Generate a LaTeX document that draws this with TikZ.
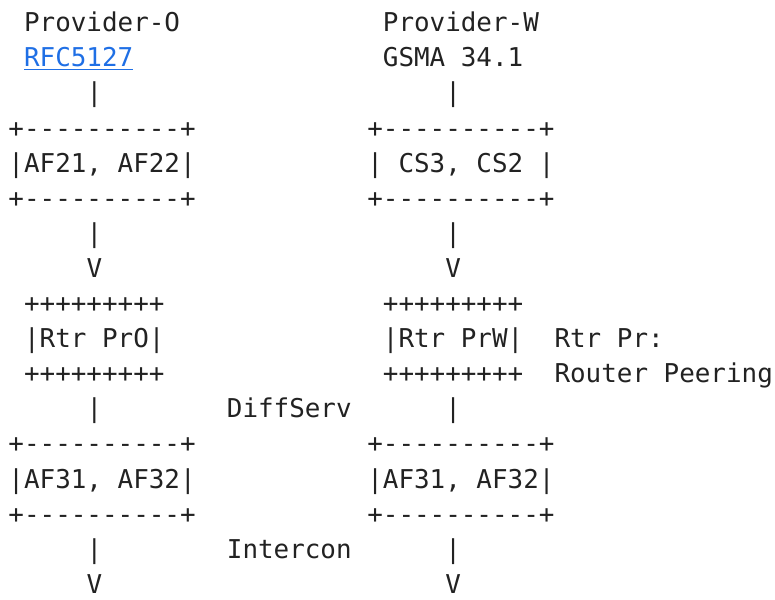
\documentclass[tikz,border=0pt]{standalone}
\usepackage{fontspec}
\newfontfamily\monoA[Ligatures=TeXOff]{DejaVu Sans Mono}
\definecolor{inkc}{HTML}{222222}
\definecolor{linkc}{HTML}{1F6FE5}
\tikzset{
  asc/.style={anchor=base west, inner sep=0pt, outer sep=0pt, text=inkc,
    font=\monoA\fontsize{25.91pt}{30pt}\selectfont},
  lnk/.style={asc, text=linkc},
}
% column / row -> position (cell pitch 15.6pt, line pitch 35.1pt)
\newcommand\cell[4]{\node[asc] (#3) at ({(8.5+#1*15.6)*1pt},{(567.2-#2*35.1)*1pt}) {#4};}
\begin{document}
\begin{tikzpicture}
\useasboundingbox (0,0) rectangle (775pt,599pt);
% row 0-1: headings
\cell{1}{0}{provO}{Provider-O}
\cell{24}{0}{provW}{Provider-W}
\node[lnk] (rfc) at ({(8.5+1*15.6)*1pt},{(567.2-1*35.1)*1pt}) {RFC5127};
\draw[linkc, line width=1pt] ([yshift=-2.6pt]rfc.base west) -- ([yshift=-2.6pt]rfc.base east);
\cell{24}{1}{gsma}{GSMA 34.1}
% row 2
\cell{5}{2}{barA1}{|}
\cell{28}{2}{barB1}{|}
% rows 3-5: first boxes
\cell{0}{3}{boxA1t}{+----------+}
\cell{23}{3}{boxB1t}{+----------+}
\cell{0}{4}{boxA1}{|AF21, AF22|}
\cell{23}{4}{boxB1}{| CS3, CS2 |}
\cell{0}{5}{boxA1b}{+----------+}
\cell{23}{5}{boxB1b}{+----------+}
% rows 6-7
\cell{5}{6}{barA2}{|}
\cell{28}{6}{barB2}{|}
\cell{5}{7}{arrA1}{V}
\cell{28}{7}{arrB1}{V}
% rows 8-10: routers
\cell{1}{8}{rtrAt}{+++++++++}
\cell{24}{8}{rtrBt}{+++++++++}
\cell{1}{9}{rtrA}{|Rtr PrO|}
\cell{24}{9}{rtrB}{|Rtr PrW|}
\cell{35}{9}{legA}{Rtr Pr:}
\cell{1}{10}{rtrAb}{+++++++++}
\cell{24}{10}{rtrBb}{+++++++++}
\cell{35}{10}{legB}{Router Peering}
% row 11
\cell{5}{11}{barA3}{|}
\cell{14}{11}{diffserv}{DiffServ}
\cell{28}{11}{barB3}{|}
% rows 12-14: second boxes
\cell{0}{12}{boxA2t}{+----------+}
\cell{23}{12}{boxB2t}{+----------+}
\cell{0}{13}{boxA2}{|AF31, AF32|}
\cell{23}{13}{boxB2}{|AF31, AF32|}
\cell{0}{14}{boxA2b}{+----------+}
\cell{23}{14}{boxB2b}{+----------+}
% rows 15-16
\cell{5}{15}{barA4}{|}
\cell{14}{15}{intercon}{Intercon}
\cell{28}{15}{barB4}{|}
\cell{5}{16}{arrA2}{V}
\cell{28}{16}{arrB2}{V}
\end{tikzpicture}
\end{document}
